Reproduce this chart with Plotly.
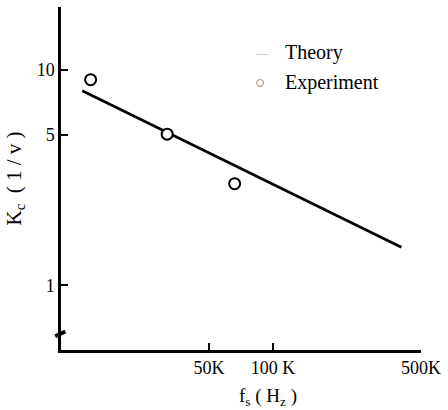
import plotly.graph_objects as go

# Data
theory_x = [12600, 404000]
theory_y = [8.0, 1.5]
exp_x = [13800, 31700, 66000]
exp_y = [9.0, 5.03, 2.96]
xtick_vals = [50000, 100000, 500000]
xtick_text = ["50K", "100 K", "500K"]
ytick_vals = [1, 5, 10]
ytick_text = ["1", "5", "10"]
legend_names = ["Theory", "Experiment"]

serif = "Liberation Serif, Times New Roman, serif"

fig = go.Figure()
fig.add_trace(go.Scatter(x=theory_x, y=theory_y, mode="lines", name=legend_names[0],
                         showlegend=False, line=dict(color="black", width=2.6)))
fig.add_trace(go.Scatter(x=exp_x, y=exp_y, mode="markers", name=legend_names[1],
                         showlegend=False,
                         marker=dict(symbol="circle", size=11, color="white",
                                     line=dict(width=2, color="black"))))

# legend drawn as text
fig.add_annotation(xref="paper", yref="paper", x=0.558, y=0.866, text="—",
                   xanchor="center", yanchor="middle",
                   showarrow=False, font=dict(size=12, color="#aaaaaa", family=serif))
fig.add_annotation(xref="paper", yref="paper", x=0.552, y=0.781, text="○",
                   xanchor="center", yanchor="middle",
                   showarrow=False, font=dict(size=17, color="#777777", family=serif))
fig.add_annotation(xref="paper", yref="paper", x=0.618, y=0.866, text=legend_names[0],
                   xanchor="left", yanchor="middle", showarrow=False,
                   font=dict(size=20, family=serif))
fig.add_annotation(xref="paper", yref="paper", x=0.618, y=0.781, text=legend_names[1],
                   xanchor="left", yanchor="middle", showarrow=False,
                   font=dict(size=20, family=serif))

# x axis title
fig.add_annotation(xref="paper", yref="paper", x=0.574, y=-0.137,
                   xanchor="center", yanchor="middle",
                   text="f<sub>s</sub> ( H<sub>z</sub> )", showarrow=False,
                   font=dict(size=19, family=serif))

# axis break mark
fig.add_shape(type="line", xref="paper", yref="paper", x0=-0.016, y0=0.040,
              x1=0.012, y1=0.054, line=dict(color="black", width=4))

fig.update_layout(
    width=448, height=410,
    margin=dict(l=61, r=23, t=7, b=60),
    paper_bgcolor="white", plot_bgcolor="white",
    font=dict(family=serif, color="black", size=18),
    showlegend=False,
    xaxis=dict(type="log", range=[4.0, 5.699], showgrid=False, zeroline=False,
               showline=True, linecolor="black", linewidth=2.5,
               ticks="inside", ticklen=7, tickwidth=2, tickcolor="black",
               tickvals=xtick_vals, ticktext=xtick_text,
               tickfont=dict(size=18, family=serif)),
    yaxis=dict(type="log", range=[-0.301, 1.292], showgrid=False, zeroline=False,
               showline=True, linecolor="black", linewidth=2.5,
               ticks="inside", ticklen=7, tickwidth=2, tickcolor="black",
               tickvals=ytick_vals, ticktext=ytick_text,
               tickfont=dict(size=18, family=serif),
               title=dict(text="K<sub>c</sub>  ( 1 / v )", font=dict(size=21, family=serif),
                          standoff=10)),
)

fig.write_html("out.html")
